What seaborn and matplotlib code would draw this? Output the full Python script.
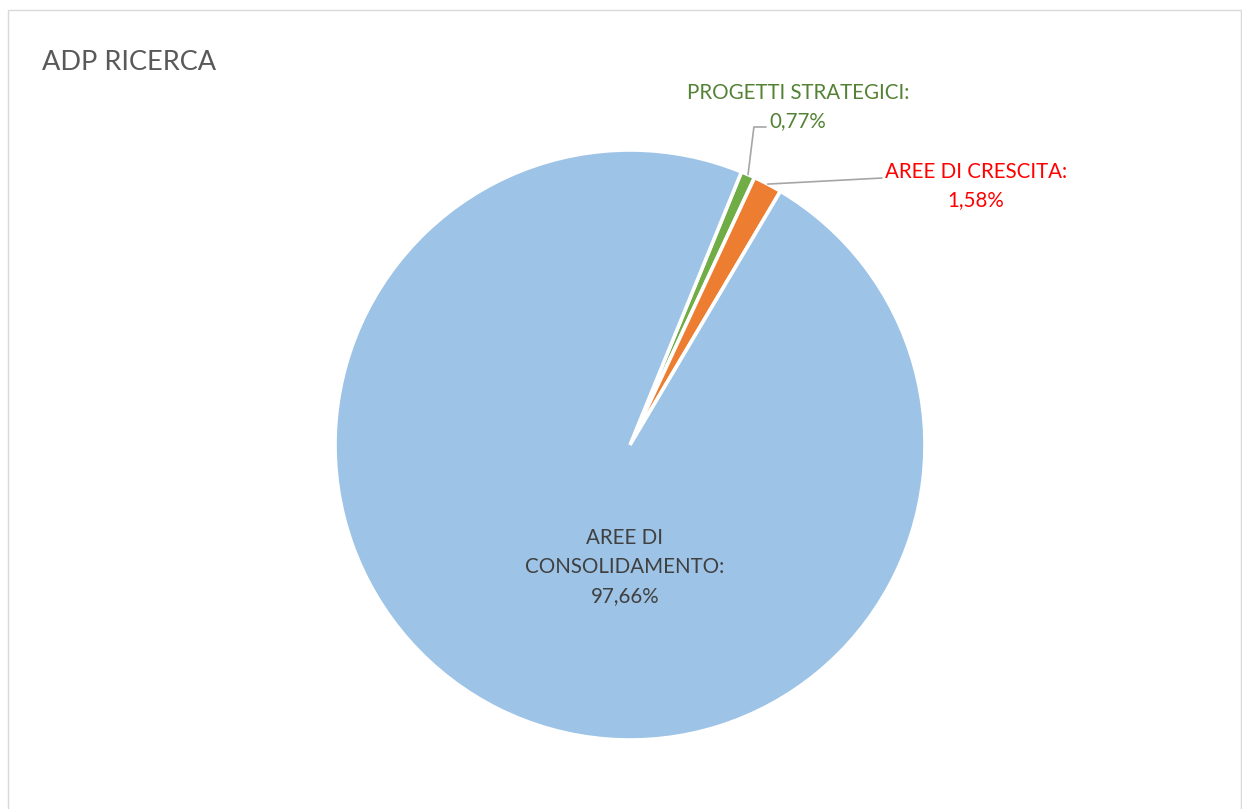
import numpy as np
import matplotlib
matplotlib.use("Agg")
import matplotlib.pyplot as plt
from matplotlib.patches import Rectangle
import seaborn as sns

# Budget split of the ADP research programme (percent)
categories = ["PROGETTI STRATEGICI", "AREE DI CRESCITA", "AREE DI CONSOLIDAMENTO"]
shares = [0.77, 1.58, 97.66]
slice_colors = ["#70AD47", "#ED7D31", "#9DC3E6"]
label_colors = ["#548235", "#FF0000", "#404040"]
title = "ADP RICERCA"

sns.set_theme(style="white")
plt.rcParams["font.family"] = ["Lato", "DejaVu Sans"]

W, H = 1242, 809
fig = plt.figure(figsize=(W / 100, H / 100), dpi=100)
fig.patch.set_facecolor("white")

# chart frame
fig.patches.append(Rectangle((8 / W, -0.01), (W - 9) / W, (H - 10) / H + 0.01,
                             transform=fig.transFigure, fill=False,
                             edgecolor="#D9D9D9", linewidth=1.0))

cx, cy, r = 630, 445, 295
ax = fig.add_axes([(cx - r) / W, (H - cy - r) / H, 2 * r / W, 2 * r / H])

start = 90 - 22.2
wedges, _ = ax.pie(shares, colors=slice_colors, startangle=start, counterclock=False,
                   radius=1.0, wedgeprops=dict(edgecolor="white", linewidth=2.6))
ax.set_xlim(-1, 1)
ax.set_ylim(-1, 1)
ax.set_aspect("equal")
ax.axis("off")

def fmt(v):
    return f"{v:.2f}".replace(".", ",") + "%"

# angles (clockwise from 12 o'clock) of each slice's middle
total = sum(shares)
cum = np.cumsum([0] + shares[:-1])
mid_deg = [22.2 + (c + s / 2) / total * 360 for c, s in zip(cum, shares)]

def edge_point(deg):
    a = np.deg2rad(deg)
    return np.sin(a), np.cos(a)

lc = "#A6A6A6"
fs = 14.8
ls = 1.55

# PROGETTI STRATEGICI: elbow leader up and right
x0, y0 = edge_point(mid_deg[0])
ax.plot([x0, 0.420, 0.461], [y0, 1.078, 1.078], color=lc, lw=1.2, clip_on=False)
ax.text(0.570, 1.146, f"{categories[0]}:\n{fmt(shares[0])}", ha="center", va="center",
        color=label_colors[0], fontsize=fs, linespacing=ls)

# AREE DI CRESCITA: straight leader to the right
x1, y1 = edge_point(mid_deg[1])
ax.plot([x1, 0.854], [y1, 0.905], color=lc, lw=1.2, clip_on=False)
ax.text(1.173, 0.878, f"{categories[1]}:\n{fmt(shares[1])}", ha="center", va="center",
        color=label_colors[1], fontsize=fs, linespacing=ls)

# AREE DI CONSOLIDAMENTO: label inside the slice
ax.text(-0.017, -0.414, "AREE DI\nCONSOLIDAMENTO:\n" + fmt(shares[2]), ha="center",
        va="center", color=label_colors[2], fontsize=fs, linespacing=ls)

fig.text(42 / W, 1 - 62 / H, title, ha="left", va="center", color="#595959", fontsize=19.5)

fig.savefig("out.png", dpi=100, facecolor="white")
